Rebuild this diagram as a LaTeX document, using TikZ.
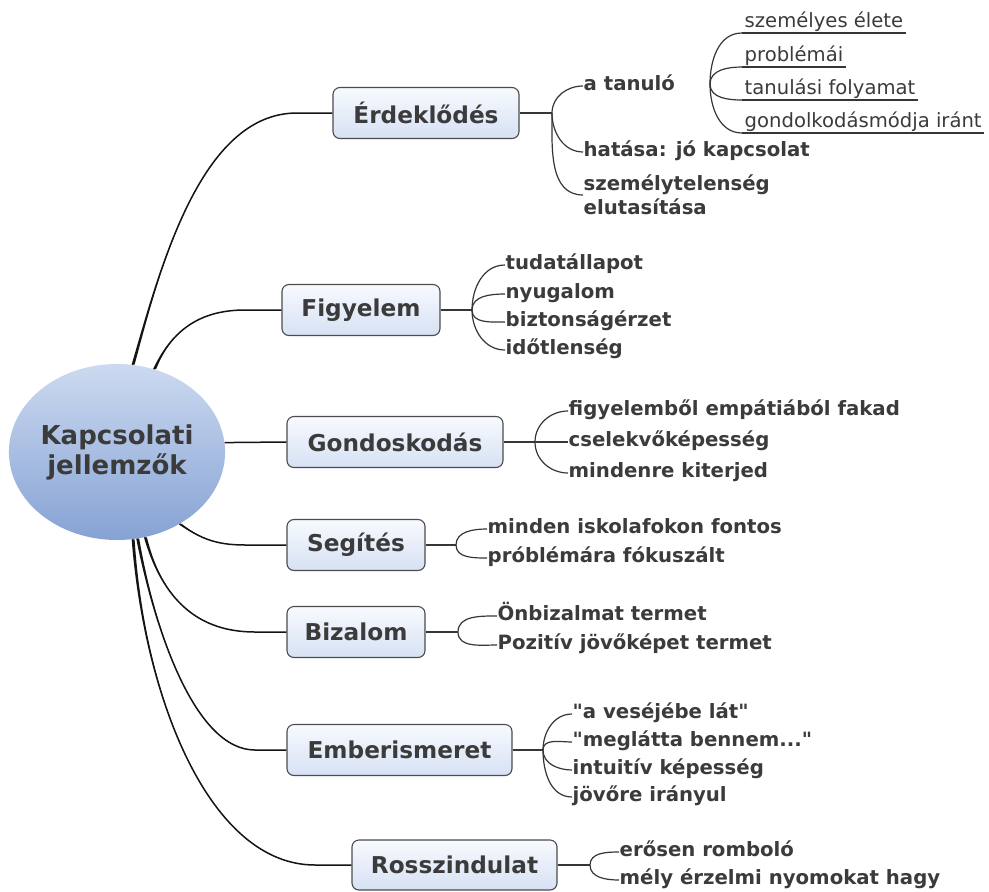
\documentclass[tikz,border=0pt]{standalone}
\usepackage{fontspec}
\setmainfont{DejaVu Sans}
\usetikzlibrary{shapes.geometric,calc}

\definecolor{ink}{HTML}{3B3B3B}
\definecolor{wire}{HTML}{141414}
\definecolor{twig}{HTML}{363636}
\definecolor{boxedge}{HTML}{4C4C4C}
\definecolor{boxtop}{HTML}{F8FAFE}
\definecolor{boxbot}{HTML}{D6E1F4}
\definecolor{hubtop}{HTML}{CCDAF0}
\definecolor{hubbot}{HTML}{86A2D4}

\tikzset{
  hub/.style={ellipse, minimum width=214pt, minimum height=176pt, inner sep=0pt,
    top color=hubtop, bottom color=hubbot, align=center, text=ink,
    font=\bfseries\fontsize{26}{30}\selectfont},
  topic/.style={rectangle, rounded corners=7pt, draw=boxedge, line width=1.1pt,
    top color=boxtop, bottom color=boxbot, minimum height=51pt, inner sep=0pt,
    text=ink, font=\bfseries\fontsize{23.2}{27}\selectfont},
  subbase/.style={anchor=west, inner xsep=0.5pt, inner ysep=0pt, text=ink,
    font=\bfseries\fontsize{19.7}{24}\selectfont},
  sub/.style={subbase, text height=14.5pt, text depth=4.6pt},
  leaf/.style={anchor=south west, inner xsep=2.5pt, inner ysep=1pt, text=ink,
    text height=14.5pt, text depth=4.6pt, font=\fontsize{19.6}{24}\selectfont},
  branch/.style={draw=wire, line width=1.5pt},
  twigline/.style={draw=twig, line width=1.2pt},
}

% a main branch: tapered curve from the central topic (#1) through two
% control points (#2, #3) to a bend point (#4), then straight into topic #5
\newcommand\branchcurve[5]{%
  \fill[wire] (#1) .. controls #2 and #3 .. #4
    .. controls #3 and #2 .. ($(#1)+(2.2,0)$) -- cycle;
  \draw[branch] (#1) .. controls #2 and #3 .. #4 -- (#5.west);
}

\begin{document}
\begin{tikzpicture}[x=1pt,y=-1pt]
\fill[white] (0,0) rectangle (989,892);
\useasboundingbox (0,0) rectangle (989,892);

% central topic
\node[hub] (hub) at (117,452) {Kapcsolati\\jellemzők};

% main topics
\node[topic, minimum width=186pt] (erd) at (426,113) {Érdeklődés};
\node[topic, minimum width=158pt] (fig) at (361,310) {Figyelem};
\node[topic, minimum width=216pt] (gon) at (395,442) {Gondoskodás};
\node[topic, minimum width=138pt] (seg) at (356,545) {Segítés};
\node[topic, minimum width=138pt] (biz) at (356,632) {Bizalom};
\node[topic, minimum width=225pt] (emb) at (399.5,750) {Emberismeret};
\node[topic, minimum width=205pt, minimum height=50pt] (ros) at (454.5,865) {Rosszindulat};

% main branches
\branchcurve{hub.80}{(160,270)}{(200,113)}{(297,113)}{erd}
\branchcurve{hub.66}{(170,335)}{(195,310)}{(245,310)}{fig}
\draw[branch] (hub.5) -- (gon.west);
\branchcurve{hub.-49}{(200,538)}{(215,545)}{(245,545)}{seg}
\branchcurve{hub.-72}{(160,590)}{(190,632)}{(255,632)}{biz}
\branchcurve{hub.-77}{(155,630)}{(195,750)}{(255,750)}{emb}
\branchcurve{hub.-80}{(145,700)}{(210,865)}{(315,865)}{ros}

% Érdeklődés
\node[sub] (e1) at (583,86) {a tanuló};
\node[sub] (e2) at (583,152) {hatása: jó kapcsolat};
\node[subbase, align=left] (e3) at (583,195) {személytelenség\\elutasítása};
\coordinate (k1) at (552,113);
\draw[twigline] (erd.east) -- (k1);
\draw[twigline] (k1) to[out=90,in=180] (e1.west);
\draw[twigline] (k1) to[out=-90,in=180] (e2.west);
\draw[twigline] (k1) to[out=-90,in=180] (e3.west);

% a tanuló
\node[leaf] (g1) at (742,33) {személyes élete};
\node[leaf] (g2) at (742,67) {problémái};
\node[leaf] (g3) at (742,100) {tanulási folyamat};
\node[leaf] (g4) at (742,133) {gondolkodásmódja iránt};
\foreach \g in {g1,g2,g3,g4} \draw[twigline] (\g.south west) -- (\g.south east);
\coordinate (k0) at (710,84);
\draw[twigline] (k0) to[out=90,in=180] (g1.south west);
\draw[twigline] (k0) to[out=90,in=180] (g2.south west);
\draw[twigline] (k0) to[out=-90,in=180] (g3.south west);
\draw[twigline] (k0) to[out=-90,in=180] (g4.south west);

% Figyelem
\node[sub] (f1) at (505,265) {tudatállapot};
\node[sub] (f2) at (505,294) {nyugalom};
\node[sub] (f3) at (505,322) {biztonságérzet};
\node[sub] (f4) at (505,350) {időtlenség};
\coordinate (k2) at (472,310);
\draw[twigline] (fig.east) -- (k2);
\draw[twigline] (k2) to[out=90,in=180] (f1.west);
\draw[twigline] (k2) to[out=90,in=180] (f2.west);
\draw[twigline] (k2) to[out=-90,in=180] (f3.west);
\draw[twigline] (k2) to[out=-90,in=180] (f4.west);

% Gondoskodás
\node[sub] (d1) at (568,411) {figyelemből empátiából fakad};
\node[sub] (d2) at (568,442) {cselekvőképesség};
\node[sub] (d3) at (568,473) {mindenre kiterjed};
\coordinate (k3) at (535,442);
\draw[twigline] (gon.east) -- (k3) -- (d2.west);
\draw[twigline] (k3) to[out=90,in=180] (d1.west);
\draw[twigline] (k3) to[out=-90,in=180] (d3.west);

% Segítés
\node[sub] (s1) at (487,529) {minden iskolafokon fontos};
\node[sub] (s2) at (487,558) {próblémára fókuszált};
\coordinate (k4) at (456,545);
\draw[twigline] (seg.east) -- (k4);
\draw[twigline] (k4) to[out=90,in=180] (s1.west);
\draw[twigline] (k4) to[out=-90,in=180] (s2.west);

% Bizalom
\node[sub] (z1) at (497,616) {Önbizalmat termet};
\node[sub] (z2) at (497,645) {Pozitív jövőképet termet};
\coordinate (k5) at (458,632);
\draw[twigline] (biz.east) -- (k5);
\draw[twigline] (k5) to[out=90,in=180] (z1.west);
\draw[twigline] (k5) to[out=-90,in=180] (z2.west);

% Emberismeret
\node[sub] (m1) at (572,714) {\textquotedbl a veséjébe lát\textquotedbl};
\node[sub] (m2) at (572,742) {\textquotedbl meglátta bennem...\textquotedbl};
\node[sub] (m3) at (572,770) {intuitív képesség};
\node[sub] (m4) at (572,797) {jövőre irányul};
\coordinate (k6) at (543,750);
\draw[twigline] (emb.east) -- (k6);
\draw[twigline] (k6) to[out=90,in=180] (m1.west);
\draw[twigline] (k6) to[out=90,in=180] (m2.west);
\draw[twigline] (k6) to[out=-90,in=180] (m3.west);
\draw[twigline] (k6) to[out=-90,in=180] (m4.west);

% Rosszindulat
\node[sub] (r1) at (619,852) {erősen romboló};
\node[sub] (r2) at (619,880) {mély érzelmi nyomokat hagy};
\coordinate (k7) at (590,865);
\draw[twigline] (ros.east) -- (k7);
\draw[twigline] (k7) to[out=90,in=180] (r1.west);
\draw[twigline] (k7) to[out=-90,in=180] (r2.west);
\end{tikzpicture}
\end{document}
